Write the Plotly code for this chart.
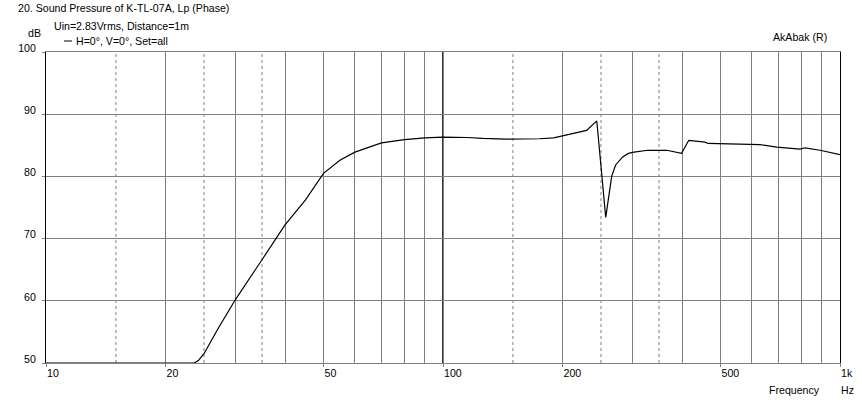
import plotly.graph_objects as go

# ---- data ----
freq_hz = [10, 20, 23.6, 24.2, 25, 27, 30, 35, 40, 45,
           50, 55, 60, 70, 80, 90, 100, 115, 126, 144,
           175, 190, 200, 213, 230, 239, 244, 257, 261, 266,
           272, 283, 293, 303, 328, 366, 399, 416, 457, 465,
           629, 693, 793, 816, 891, 1000]
spl_db = [50, 50, 50, 50.4, 51.5, 55.3, 60.2, 66.6, 72.2, 76.2,
          80.5, 82.6, 83.9, 85.4, 85.9, 86.2, 86.3, 86.25, 86.1, 86.0,
          86.05, 86.2, 86.5, 86.9, 87.4, 88.4, 88.9, 73.4, 76.7, 80.0,
          81.8, 83.1, 83.7, 83.9, 84.2, 84.2, 83.7, 85.8, 85.5, 85.3,
          85.1, 84.7, 84.4, 84.6, 84.2, 83.5]

x_tick_vals = [10, 20, 50, 100, 200, 500, 1000]
x_tick_text = ["10", "20", "50", "100", "200", "500", "1k"]
x_minor_solid = [30, 40, 60, 70, 80, 90, 300, 400, 600, 700, 800, 900]
x_dashed = [15, 25, 35, 150, 250, 350]
x_black = [100]
y_tick_vals = [50, 60, 70, 80, 90, 100]

FONT = "Liberation Sans, Arial, sans-serif"
W, H = 862, 402
L, R, T, B = 46, 22, 52, 39
PW, PH = W - L - R, H - T - B


def px(x):
    return (x - L) / PW


def py(y):
    return (H - B - y) / PH


fig = go.Figure()
fig.add_trace(go.Scatter(x=freq_hz, y=spl_db, mode="lines",
                         line=dict(color="black", width=1.2),
                         showlegend=False, hoverinfo="skip"))

shapes = []
for f in x_dashed:
    shapes.append(dict(type="line", xref="x", yref="paper", x0=f, x1=f, y0=0, y1=1,
                       line=dict(color="#808080", width=1, dash="3px,3px"), layer="below"))
for f in x_black:
    shapes.append(dict(type="line", xref="x", yref="paper", x0=f, x1=f, y0=0, y1=1,
                       line=dict(color="black", width=1.6), layer="below"))
# legend sample line
shapes.append(dict(type="line", xref="paper", yref="paper", x0=px(64), x1=px(72),
                   y0=py(41), y1=py(41), line=dict(color="black", width=1)))


def txt(s, x, y, xanchor="left"):
    return dict(text=s, xref="paper", yref="paper", x=px(x), y=py(y), xanchor=xanchor,
                yanchor="middle", showarrow=False, font=dict(family=FONT, size=10.6, color="black"))


annotations = [
    txt("20. Sound Pressure of K-TL-07A, Lp (Phase)", 16, 8),
    txt("Uin=2.83Vrms, Distance=1m", 52, 26),
    txt("dB", 26, 33),
    txt("H=0°, V=0°, Set=all", 74, 41),
    txt("AkAbak (R)", 771, 37),
    txt("Frequency", 767, 389.5),
    txt("Hz", 839, 389.5),
]

fig.update_layout(
    width=W, height=H,
    margin=dict(l=L, r=R, t=T, b=B, pad=0, autoexpand=False),
    paper_bgcolor="white", plot_bgcolor="white",
    font=dict(family=FONT, size=10.6, color="black"),
    shapes=shapes, annotations=annotations,
    xaxis=dict(type="log", range=[1, 3], tickvals=x_tick_vals, ticktext=x_tick_text,
               ticks="outside", ticklen=3, tickcolor="#808080",
               ticklabelposition="outside right", automargin=False,
               showgrid=True, gridcolor="#808080", gridwidth=1,
               minor=dict(tickvals=x_minor_solid, showgrid=True, gridcolor="#808080",
                          gridwidth=1, ticks=""),
               showline=True, linecolor="#808080", linewidth=1, mirror=True,
               zeroline=False, tickfont=dict(family=FONT, size=10.6, color="black")),
    yaxis=dict(range=[50, 100], tickvals=y_tick_vals,
               ticks="outside", ticklen=3, tickcolor="#808080",
               ticklabelshift=-4, ticklabelstandoff=4, automargin=False,
               showgrid=True, gridcolor="#808080", gridwidth=1,
               showline=True, linecolor="black", linewidth=1, mirror=True,
               zeroline=False, tickfont=dict(family=FONT, size=10.6, color="black")),
)

fig.write_html("out.html", config={"displayModeBar": False},
               post_script="document.body.style.margin='0';document.body.style.padding='0';")
